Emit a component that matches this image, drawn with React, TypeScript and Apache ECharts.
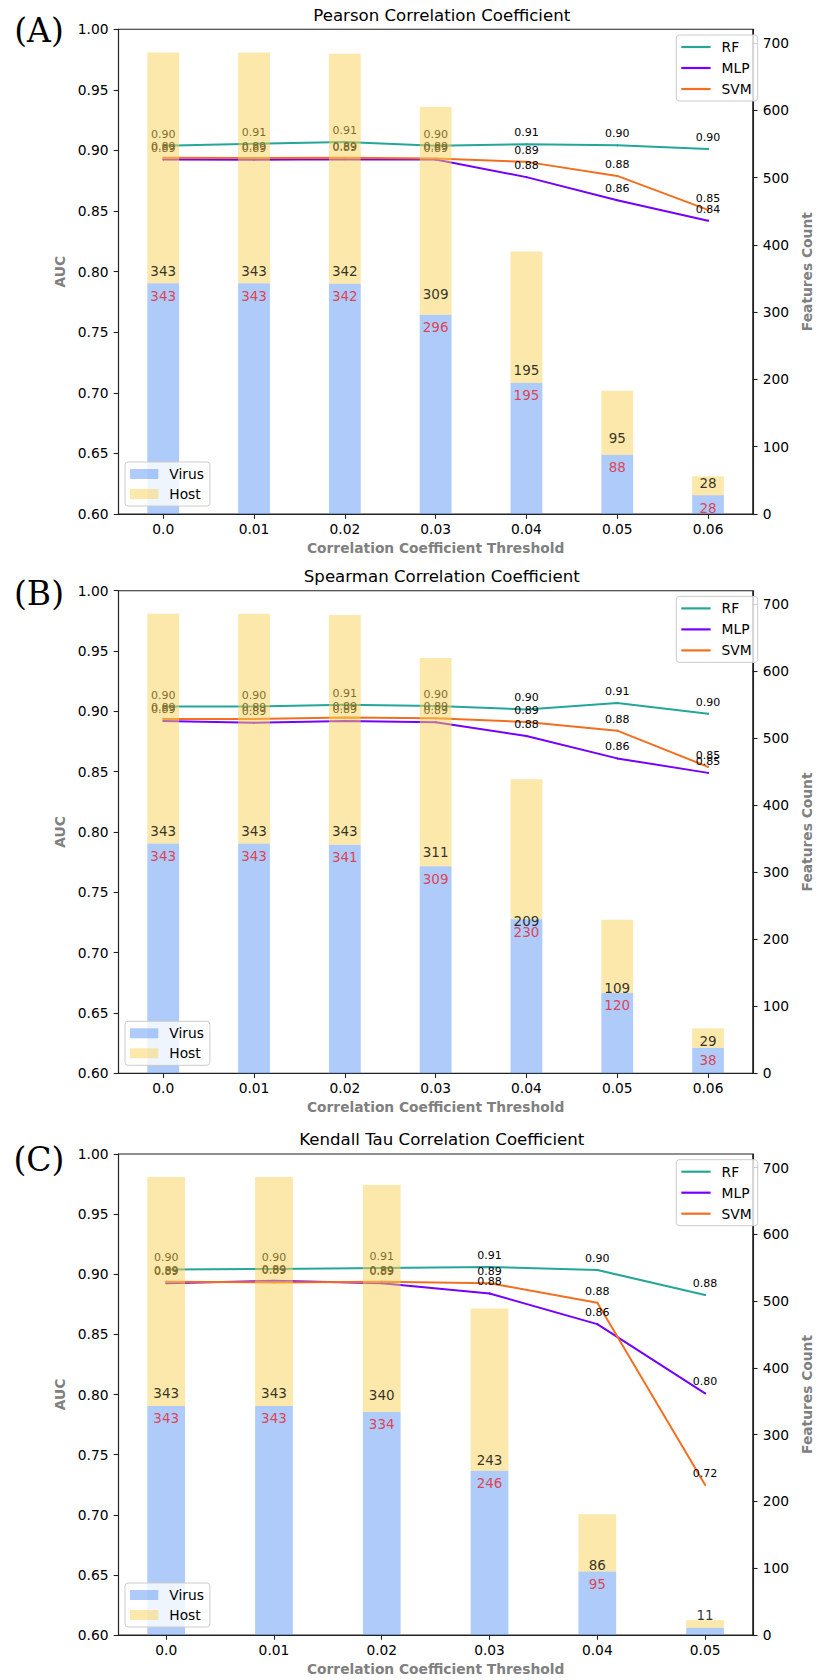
import React, { useEffect, useRef } from "react";
import * as echarts from "echarts";

// ---------- data ----------
const thresholds7 = ["0.0", "0.01", "0.02", "0.03", "0.04", "0.05", "0.06"];
const thresholds6 = ["0.0", "0.01", "0.02", "0.03", "0.04", "0.05"];

const pearsonRF = [0.904, 0.9055, 0.907, 0.904, 0.9052, 0.9043, 0.9013];
const pearsonMLP = [0.8925, 0.8924, 0.8928, 0.8925, 0.878, 0.859, 0.842];
const pearsonSVM = [0.8939, 0.8938, 0.8939, 0.8934, 0.8906, 0.879, 0.851];
const pearsonVirus = [343, 343, 342, 296, 195, 88, 28];
const pearsonHost = [343, 343, 342, 309, 195, 95, 28];
const pearsonVirusLabels = [343, 343, 342, 296, 195, 88, 28];

const spearmanRF = [0.904, 0.904, 0.9055, 0.9045, 0.9016, 0.907, 0.898];
const spearmanMLP = [0.892, 0.8905, 0.892, 0.891, 0.8795, 0.861, 0.849];
const spearmanSVM = [0.8937, 0.8937, 0.8948, 0.8942, 0.8912, 0.884, 0.854];
const spearmanVirus = [343, 343, 341, 309, 230, 120, 38];
const spearmanHost = [343, 343, 343, 311, 209, 109, 29];
const spearmanVirusLabels = [343, 343, 341, 309, 230, 120, 38];

const kendallRF = [0.904, 0.9044, 0.9053, 0.906, 0.9036, 0.8828];
const kendallMLP = [0.8926, 0.8945, 0.8926, 0.884, 0.8585, 0.801];
const kendallSVM = [0.8938, 0.8932, 0.8938, 0.8926, 0.8763, 0.7249];
const kendallVirus = [343, 343, 334, 246, 95, 11];
const kendallHost = [343, 343, 340, 243, 86, 11];
const kendallVirusLabels = [343, 343, 334, 246, 95, null];

const aucTicks = [0.6, 0.65, 0.7, 0.75, 0.8, 0.85, 0.9, 0.95, 1.0];
const countTicks = [0, 100, 200, 300, 400, 500, 600, 700];

// ---------- styling ----------
const FONT = "DejaVu Sans";
const AX = "#222222";
const C_RF = "#26a69a";
const C_MLP = "#7400ff";
const C_SVM = "#f36f20";
const C_VIRUS = "rgba(93,151,245,0.5)";
const C_HOST = "rgba(249,209,85,0.5)";
const C_RED = "#e8202a";
const GREY = "#808080";

const GRID_LEFT = 118.5;
const GRID_W = 646.5;
const BAR_FRACTION = 0.35;

const panels = [
  {
    title: "Pearson Correlation Coefficient",
    tag: "(A)",
    cats: thresholds7,
    rf: pearsonRF,
    mlp: pearsonMLP,
    svm: pearsonSVM,
    virus: pearsonVirus,
    host: pearsonHost,
    red: pearsonVirusLabels,
    top: 29.3,
    height: 484.7,
    titleY: 15,
    tagY: 30,
  },
  {
    title: "Spearman Correlation Coefficient",
    tag: "(B)",
    cats: thresholds7,
    rf: spearmanRF,
    mlp: spearmanMLP,
    svm: spearmanSVM,
    virus: spearmanVirus,
    host: spearmanHost,
    red: spearmanVirusLabels,
    top: 590.7,
    height: 482.6,
    titleY: 576,
    tagY: 593,
  },
  {
    title: "Kendall Tau Correlation Coefficient",
    tag: "(C)",
    cats: thresholds6,
    rf: kendallRF,
    mlp: kendallMLP,
    svm: kendallSVM,
    virus: kendallVirus,
    host: kendallHost,
    red: kendallVirusLabels,
    top: 1154,
    height: 481,
    titleY: 1139.7,
    tagY: 1159,
  },
];

function barRenderer(color: string) {
  return (_params: any, api: any) => {
    const x = api.value(0);
    const lo = api.value(1);
    const hi = api.value(2);
    const p0 = api.coord([x, lo]);
    const p1 = api.coord([x, hi]);
    const w = api.size([BAR_FRACTION, 0])[0];
    return {
      type: "rect",
      shape: { x: p0[0] - w / 2, y: p1[1], width: w, height: p0[1] - p1[1] },
      style: { fill: color },
    };
  };
}

function buildOption() {
  const grid: any[] = [];
  const xAxis: any[] = [];
  const yAxis: any[] = [];
  const legend: any[] = [];
  const series: any[] = [];
  const graphic: any[] = [];

  panels.forEach((p, i) => {
    const n = p.cats.length;
    const margin = BAR_FRACTION / 2 + (n - 1 + BAR_FRACTION) * 0.05;
    const idx = p.cats.map((_, k) => k);

    grid.push({
      left: GRID_LEFT,
      top: p.top,
      width: GRID_W,
      height: p.height,
      show: true,
      borderColor: AX,
      borderWidth: 1.1,
      backgroundColor: "transparent",
    });

    xAxis.push({
      type: "value",
      gridIndex: i,
      min: -margin,
      max: n - 1 + margin,
      axisLine: { show: true, onZero: false, lineStyle: { color: AX, width: 1.1 } },
      axisTick: { show: true, length: 4.8, lineStyle: { color: AX, width: 1.1 }, customValues: idx },
      axisLabel: {
        customValues: idx,
        formatter: (v: number) => p.cats[Math.round(v)] ?? "",
        fontSize: 13.8,
        color: "#000",
        margin: 8,
        fontFamily: FONT,
      },
      splitLine: { show: false },
      name: "Correlation Coefficient Threshold",
      nameLocation: "middle",
      nameGap: 27,
      nameTextStyle: { fontWeight: "bold", color: GREY, fontSize: 13.8, fontFamily: FONT },
    });

    yAxis.push({
      type: "value",
      gridIndex: i,
      position: "left",
      min: 0.6,
      max: 1.0,
      interval: 0.05,
      axisLine: { show: true, onZero: false, lineStyle: { color: AX, width: 1.1 } },
      axisTick: { show: true, length: 4.8, lineStyle: { color: AX, width: 1.1 }, customValues: aucTicks },
      axisLabel: {
        customValues: aucTicks,
        formatter: (v: number) => v.toFixed(2),
        fontSize: 13.8,
        color: "#000",
        margin: 10,
        fontFamily: FONT,
      },
      splitLine: { show: false },
      name: "AUC",
      nameLocation: "middle",
      nameGap: 47,
      nameRotate: 90,
      nameTextStyle: { fontWeight: "bold", color: GREY, fontSize: 13.8, fontFamily: FONT },
    });

    yAxis.push({
      type: "value",
      gridIndex: i,
      position: "right",
      min: 0,
      max: 720.3,
      interval: 100,
      axisLine: { show: true, onZero: false, lineStyle: { color: AX, width: 1.1 } },
      axisTick: { show: true, length: 4.8, lineStyle: { color: AX, width: 1.1 }, customValues: countTicks },
      axisLabel: {
        customValues: countTicks,
        formatter: (v: number) => (v % 100 === 0 ? String(v) : ""),
        fontSize: 13.8,
        color: "#000",
        margin: 10,
        fontFamily: FONT,
      },
      splitLine: { show: false },
      name: "Features Count",
      nameLocation: "middle",
      nameGap: 42,
      nameRotate: 90,
      nameTextStyle: { fontWeight: "bold", color: GREY, fontSize: 13.8, fontFamily: FONT },
    });

    const legendBox = {
      orient: "vertical",
      backgroundColor: "rgba(255,255,255,0.8)",
      borderColor: "#cccccc",
      borderWidth: 1,
      borderRadius: 3,
      padding: [5, 6, 5, 5],
      icon: "rect",
      selectedMode: false,
      textStyle: { fontSize: 13.8, lineHeight: 14, color: "#000", fontFamily: FONT, padding: [0, 0, 0, 6] },
    };
    legend.push({
      ...legendBox,
      right: 822 - 757.7,
      top: p.top + 5.7,
      data: ["RF", "MLP", "SVM"],
      itemWidth: 29.3,
      itemHeight: 2.2,
      itemGap: 7,
    });
    legend.push({
      ...legendBox,
      left: 125,
      top: p.top + p.height - 52,
      data: ["Virus", "Host"],
      itemWidth: 28.3,
      itemHeight: 10,
      itemGap: 6,
    });

    const lineSeries = (name: string, vals: number[], color: string) => ({
      type: "line",
      name,
      xAxisIndex: i,
      yAxisIndex: 2 * i,
      data: vals.map((v, k) => [k, v]),
      color,
      lineStyle: { width: 2, color },
      itemStyle: { color },
      symbol: "circle",
      symbolSize: 2,
      showSymbol: true,
      z: 1,
      silent: true,
      emphasis: { disabled: true },
      label: {
        show: true,
        position: "top",
        distance: 5,
        fontSize: 11,
        color: "#000",
        fontFamily: FONT,
        formatter: (pp: any) => pp.value[1].toFixed(2),
      },
    });
    series.push(lineSeries("RF", p.rf, C_RF));
    series.push(lineSeries("MLP", p.mlp, C_MLP));
    series.push(lineSeries("SVM", p.svm, C_SVM));

    // stacked bars: virus from 0 to virus, host from virus to virus + host
    series.push({
      type: "custom",
      name: "Virus",
      xAxisIndex: i,
      yAxisIndex: 2 * i + 1,
      data: p.virus.map((v, k) => [k, 0, v]),
      encode: { x: 0, y: [1, 2] },
      renderItem: barRenderer(C_VIRUS),
      itemStyle: { color: C_VIRUS },
      z: 3,
      silent: true,
    });
    series.push({
      type: "custom",
      name: "Host",
      xAxisIndex: i,
      yAxisIndex: 2 * i + 1,
      data: p.host.map((v, k) => [k, p.virus[k], p.virus[k] + v]),
      encode: { x: 0, y: [1, 2] },
      renderItem: barRenderer(C_HOST),
      itemStyle: { color: C_HOST },
      z: 3,
      silent: true,
    });

    series.push({
      type: "scatter",
      name: "hostLabels" + i,
      xAxisIndex: i,
      yAxisIndex: 2 * i + 1,
      data: p.host.map((v, k) => [k, v]),
      symbolSize: 1,
      itemStyle: { color: "rgba(0,0,0,0)" },
      z: 5,
      silent: true,
      label: {
        show: true,
        position: "top",
        distance: 5,
        fontSize: 13.5,
        color: "#000",
        fontFamily: FONT,
        formatter: (pp: any) => String(pp.value[1]),
      },
    });
    series.push({
      type: "scatter",
      name: "virusLabels" + i,
      xAxisIndex: i,
      yAxisIndex: 2 * i + 1,
      data: p.red
        .map((v, k) => (v === null ? null : [k, v]))
        .filter((d) => d !== null),
      symbolSize: 1,
      itemStyle: { color: "rgba(0,0,0,0)" },
      z: 5,
      silent: true,
      label: {
        show: true,
        position: "bottom",
        distance: 5,
        fontSize: 13.5,
        color: C_RED,
        fontFamily: FONT,
        formatter: (pp: any) => String(pp.value[1]),
      },
    });

    graphic.push({
      type: "text",
      x: GRID_LEFT + GRID_W / 2,
      y: p.titleY,
      silent: true,
      style: {
        text: p.title,
        font: `16.6px "${FONT}"`,
        fill: "#000",
        textAlign: "center",
        textVerticalAlign: "middle",
        align: "center",
        verticalAlign: "middle",
      },
    });
    graphic.push({
      type: "text",
      x: 39,
      y: p.tagY,
      silent: true,
      style: {
        text: p.tag,
        font: `33px "DejaVu Serif"`,
        fill: "#000",
        textAlign: "center",
        textVerticalAlign: "middle",
        align: "center",
        verticalAlign: "middle",
      },
    });
  });

  return {
    animation: false,
    backgroundColor: "#ffffff",
    textStyle: { fontFamily: FONT },
    grid,
    xAxis,
    yAxis,
    legend,
    series,
    graphic,
  };
}

export default function App() {
  const ref = useRef<HTMLDivElement>(null);
  useEffect(() => {
    if (!ref.current) return;
    const chart = echarts.init(ref.current, undefined, { renderer: "svg" });
    chart.setOption(buildOption() as any);
    return () => chart.dispose();
  }, []);
  return (
    <div
      ref={ref}
      style={{ position: "absolute", left: 0, top: 0, width: 822, height: 1680, background: "#fff" }}
    />
  );
}
